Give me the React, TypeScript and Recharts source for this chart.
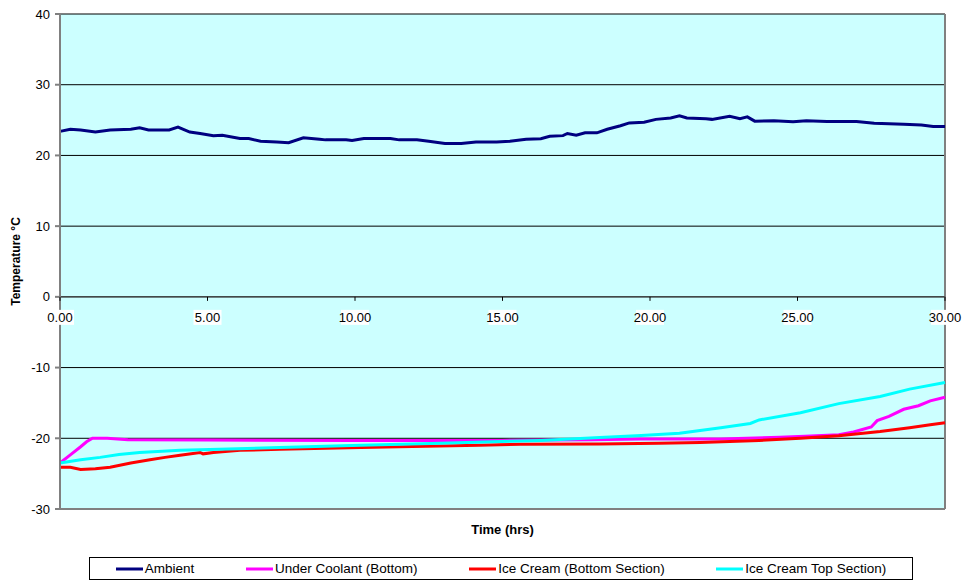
import React from "react"
import { LineChart, Line, XAxis, YAxis, CartesianGrid, ReferenceLine, Legend, Label } from "recharts"

// temperatures (°C against hours)
const ambientHours = [0, 0.35, 0.7, 1.2, 1.7, 2.4, 2.7, 3.0, 3.7, 4.0, 4.4, 4.75, 5.2, 5.5, 6.1, 6.4, 6.8, 7.35, 7.75, 8.25, 8.8, 9.0, 9.7, 9.9, 10.3, 11.2, 11.5, 12.1, 12.5, 13.05, 13.6, 14.1, 14.8, 15.25, 15.8, 16.3, 16.6, 17.05, 17.2, 17.5, 17.8, 18.2, 18.55, 19.0, 19.3, 19.8, 20.2, 20.7, 21.0, 21.25, 21.9, 22.1, 22.7, 23.05, 23.3, 23.55, 24.2, 24.85, 25.3, 26.0, 27.0, 27.6, 28.6, 29.2, 29.6, 30]
const ambientTemps = [23.4, 23.7, 23.6, 23.3, 23.6, 23.7, 23.9, 23.6, 23.6, 24.0, 23.3, 23.1, 22.8, 22.85, 22.4, 22.4, 22.0, 21.9, 21.8, 22.5, 22.3, 22.2, 22.2, 22.1, 22.4, 22.4, 22.2, 22.2, 22.0, 21.7, 21.7, 21.9, 21.9, 22.0, 22.3, 22.35, 22.7, 22.8, 23.1, 22.85, 23.2, 23.2, 23.7, 24.2, 24.6, 24.7, 25.1, 25.3, 25.6, 25.3, 25.2, 25.1, 25.55, 25.2, 25.45, 24.85, 24.9, 24.75, 24.9, 24.8, 24.8, 24.55, 24.4, 24.3, 24.1, 24.1]

const coolantHours = [0, 0.35, 0.7, 0.9, 1.1, 1.6, 2.3, 5, 10, 15, 18, 19.7, 22.4, 24.4, 25.25, 26.4, 26.9, 27.5, 27.7, 28.1, 28.6, 29.1, 29.5, 30]
const coolantTemps = [-23.5, -22.35, -21.2, -20.5, -20.0, -20.0, -20.2, -20.25, -20.3, -20.3, -20.2, -20.1, -20.1, -19.85, -19.7, -19.5, -19.1, -18.4, -17.5, -16.9, -15.9, -15.4, -14.7, -14.2]

const bottomHours = [0, 0.35, 0.7, 1.2, 1.7, 2.4, 3.05, 3.56, 4.07, 4.75, 4.85, 5.2, 6.1, 7.45, 10.2, 11.5, 14.2, 15.6, 18.3, 20.3, 21.7, 23.7, 25.1, 26.4, 27.8, 28.8, 29.5, 30]
const bottomTemps = [-24.1, -24.1, -24.4, -24.3, -24.1, -23.5, -23.05, -22.7, -22.4, -22.0, -22.2, -22.0, -21.7, -21.55, -21.3, -21.2, -21.0, -20.85, -20.8, -20.7, -20.6, -20.3, -20.0, -19.65, -19.05, -18.5, -18.1, -17.8]

const topHours = [0, 0.7, 1.36, 2.0, 2.7, 4.07, 5.4, 7.45, 10.2, 12.9, 16.3, 18.3, 19.7, 21.0, 22.4, 23.4, 23.7, 25.1, 26.4, 27.8, 28.8, 30]
const topTemps = [-23.5, -23.05, -22.7, -22.3, -22.0, -21.7, -21.55, -21.3, -21.0, -20.7, -20.3, -19.9, -19.6, -19.3, -18.5, -17.9, -17.4, -16.4, -15.1, -14.1, -13.05, -12.1]

const xTicks = [0, 5, 10, 15, 20, 25, 30]
const yTicks = [-30, -20, -10, 0, 10, 20, 30, 40]

const seriesNames = ["Ambient", "Under Coolant (Bottom)", "Ice Cream (Bottom Section)", "Ice Cream Top Section)"]
const seriesColors = ["#000080", "#ff00ff", "#ff0000", "#00ffff"]

const toPoints = (hours: number[], temps: number[]) => hours.map((h, i) => ({ hours: h, temp: temps[i] }))

const FONT = '"Liberation Sans", Arial, sans-serif'
const W = 964
const H = 581
const TOP = 14
const BOTTOM = 509
const Y_MIN = -30
const Y_MAX = 40
const ZERO_Y = TOP + ((BOTTOM - TOP) * Y_MAX) / (Y_MAX - Y_MIN)

// x labels sit on the zero line, not at the bottom of the plot
const ZeroTick = (props: any) => {
  const { x, payload } = props
  const label = Number(payload.value).toFixed(2)
  return (
    <g>
      <line x1={x} x2={x} y1={ZERO_Y} y2={ZERO_Y + 4} stroke="#000" />
      <rect x={x - 14} y={ZERO_Y + 13} width={28} height={15} fill="#fff" />
      <text x={x} y={ZERO_Y + 25} textAnchor="middle" fontSize={13} fontFamily={FONT} fill="#000">
        {label}
      </text>
    </g>
  )
}

const LegendBox = () => (
  <div
    style={{
      boxSizing: "border-box",
      width: "100%",
      height: "100%",
      border: "1px solid #000",
      background: "#fff",
      display: "flex",
      justifyContent: "space-around",
      alignItems: "center",
      fontFamily: FONT,
      fontSize: 13.5,
      color: "#000",
    }}
  >
    {seriesNames.map((name, i) => (
      <span key={name} style={{ display: "flex", alignItems: "center" }}>
        <svg width={27} height={6} style={{ marginRight: 2 }}>
          <line x1={0} x2={27} y1={3} y2={3} stroke={seriesColors[i]} strokeWidth={3} />
        </svg>
        {name}
      </span>
    ))}
  </div>
)

export default function App() {
  const series = [
    toPoints(ambientHours, ambientTemps),
    toPoints(coolantHours, coolantTemps),
    toPoints(bottomHours, bottomTemps),
    toPoints(topHours, topTemps),
  ]

  return (
    <div style={{ position: "absolute", left: 0, top: 0, width: W, height: H, background: "#fff" }}>
      <LineChart width={W} height={H} margin={{ top: TOP, right: 19, left: 0, bottom: 32 }}>
        <CartesianGrid vertical={false} stroke="#000" fill="#ccffff" />
        <XAxis
          dataKey="hours"
          type="number"
          domain={[0, 30]}
          ticks={xTicks}
          height={40}
          stroke="#808080"
          strokeWidth={2}
          tickLine={false}
          tick={<ZeroTick />}
          allowDuplicatedCategory={false}
        >
          <Label
            value="Time (hrs)"
            position="insideTop"
            offset={16}
            style={{ fontFamily: FONT, fontSize: 13, fontWeight: "bold", fill: "#000" }}
          />
        </XAxis>
        <YAxis
          domain={[Y_MIN, Y_MAX]}
          ticks={yTicks}
          width={60}
          stroke="#808080"
          strokeWidth={2}
          tickSize={5}
          tickMargin={5}
          tick={{ fontFamily: FONT, fontSize: 13, fill: "#000" }}
          label={{
            value: "Temperature °C",
            angle: -90,
            position: "center",
            dx: -14,
            style: { fontFamily: FONT, fontSize: 12, fontWeight: "bold", fill: "#000" },
          }}
        />
        <ReferenceLine x={30} stroke="#808080" strokeWidth={2} />
        <ReferenceLine y={0} stroke="#404040" />
        {series.map((data, i) => (
          <Line
            key={seriesNames[i]}
            data={data}
            dataKey="temp"
            name={seriesNames[i]}
            type="linear"
            stroke={seriesColors[i]}
            strokeWidth={3}
            dot={false}
            isAnimationActive={false}
          />
        ))}
        <Legend
          layout="horizontal"
          verticalAlign="middle"
          align="center"
          content={<LegendBox />}
          wrapperStyle={{ left: 89, top: 557, width: 824, height: 23 }}
        />
      </LineChart>
    </div>
  )
}
